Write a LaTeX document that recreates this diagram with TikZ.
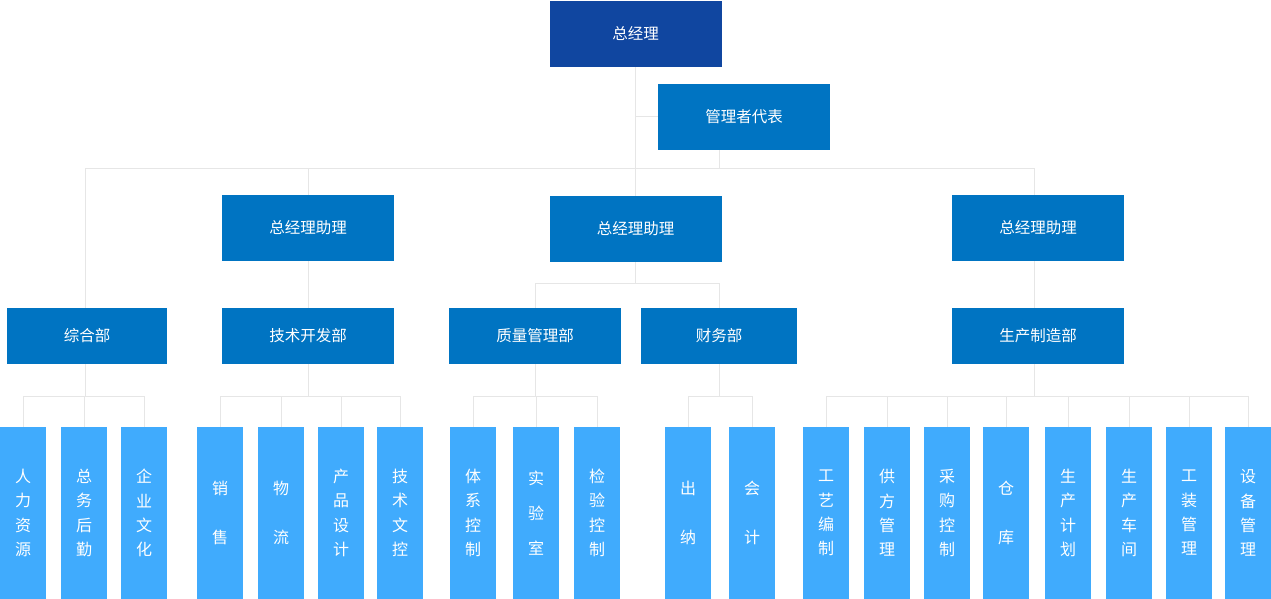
\documentclass[tikz,border=0pt]{standalone}
\usepackage{fontspec}
\setmainfont{Noto Sans CJK SC}
\definecolor{topblue}{HTML}{1046A0}
\definecolor{midblue}{HTML}{0074C2}
\definecolor{leafblue}{HTML}{40ABFD}
\definecolor{linegray}{HTML}{E6E6E6}
\tikzset{
  topbox/.style={fill=topblue,text=white,inner sep=0pt,minimum height=66pt,font=\fontsize{15.5}{18}\selectfont},
  midbox/.style={fill=midblue,text=white,inner sep=0pt,font=\fontsize{15.5}{18}\selectfont},
  leafbox/.style={fill=leafblue,text=white,inner sep=0pt,minimum width=46pt,minimum height=172pt,align=center,font=\fontsize{16}{24.3}\selectfont},
  conn/.style={draw=linegray,line width=1pt}
}
\begin{document}
\begin{tikzpicture}[x=1pt,y=-1pt]
\useasboundingbox[fill=white] (0,0) rectangle (1271,599);
% bars
\coordinate (b1) at (0,168);
\coordinate (b2) at (0,283);
\coordinate (b3) at (0,396);
% top levels
\node[topbox,minimum width=172pt] (zjl) at (635.5,34) {总经理};
\node[midbox,minimum width=172pt,minimum height=66pt] (glz) at (744,117) {管理者代表};
\node[midbox,minimum width=172pt,minimum height=66pt] (zlm) at (635.5,229) {总经理助理};
\node[midbox,minimum width=172pt,minimum height=66pt] (zll) at (308,228) {总经理助理};
\node[midbox,minimum width=172pt,minimum height=66pt] (zlr) at (1038,228) {总经理助理};
% level 3
\node[midbox,minimum width=160pt,minimum height=56pt] (zhb) at (87,336) {综合部};
\node[midbox,minimum width=172pt,minimum height=56pt] (jsb) at (308,336) {技术开发部};
\node[midbox,minimum width=172pt,minimum height=56pt] (zlb) at (535,336) {质量管理部};
\node[midbox,minimum width=156pt,minimum height=56pt] (cwb) at (719,336) {财务部};
\node[midbox,minimum width=172pt,minimum height=56pt] (scb) at (1038,336) {生产制造部};
% anchor points of the connectors
\coordinate (glzd) at ([xshift=-25pt]glz.south);
\coordinate (zhbu) at ([xshift=-2pt]zhb.north);
\coordinate (zhbd) at ([xshift=-2pt]zhb.south);
\coordinate (zlru) at ([xshift=-4pt]zlr.north);
\coordinate (zlrd) at ([xshift=-4pt]zlr.south);
\coordinate (scbu) at ([xshift=-4pt]scb.north);
\coordinate (scbd) at ([xshift=-4pt]scb.south);
% leaves
\node[leafbox] (l1) at (23,513) {人\\力\\资\\源};
\node[leafbox] (l2) at (84,513) {总\\务\\后\\勤};
\node[leafbox] (l3) at (144,513) {企\\业\\文\\化};
\node[leafbox] (l4) at (220,513) {销\\[24pt]售};
\node[leafbox] (l5) at (281,513) {物\\[24pt]流};
\node[leafbox] (l6) at (341,513) {产\\品\\设\\计};
\node[leafbox] (l7) at (400,513) {技\\术\\文\\控};
\node[leafbox] (l8) at (473,513) {体\\系\\控\\制};
\node[leafbox] (l9) at (536,513) {实\\[10.5pt]验\\[10.5pt]室};
\node[leafbox] (l10) at (597,513) {检\\验\\控\\制};
\node[leafbox] (l11) at (688,513) {出\\[24pt]纳};
\node[leafbox] (l12) at (752,513) {会\\[24pt]计};
\node[leafbox] (l13) at (826,513) {工\\艺\\编\\制};
\node[leafbox] (l14) at (887,513) {供\\方\\管\\理};
\node[leafbox] (l15) at (947,513) {采\\购\\控\\制};
\node[leafbox] (l16) at (1006,513) {仓\\[24pt]库};
\node[leafbox] (l17) at (1068,513) {生\\产\\计\\划};
\node[leafbox] (l18) at (1129,513) {生\\产\\车\\间};
\node[leafbox] (l19) at (1189,513) {工\\装\\管\\理};
\node[leafbox] (l20) at (1248,513) {设\\备\\管\\理};
% connectors: top
\draw[conn] (zjl.south) -- (zlm.north);
\draw[conn] (zjl.south |- glz.west) -- (glz.west);
\draw[conn] (glzd) -- (glzd |- b1);
\draw[conn] (zhbu |- b1) -- (zlru |- b1);
\draw[conn] (zhbu |- b1) -- (zhbu);
\draw[conn] (zll.north |- b1) -- (zll.north);
\draw[conn] (zlru |- b1) -- (zlru);
\draw[conn] (zll.south) -- (jsb.north);
\draw[conn] (zlrd) -- (scbu);
\draw[conn] (zlm.south) -- (zlm.south |- b2);
\draw[conn] (zlb.north |- b2) -- (cwb.north |- b2);
\draw[conn] (zlb.north |- b2) -- (zlb.north);
\draw[conn] (cwb.north |- b2) -- (cwb.north);
% connectors: level 3 to leaves
\foreach \p/\a/\b/\kids in {zhbd/l1/l3/{l1,l2,l3}, jsb.south/l4/l7/{l4,l5,l6,l7}, zlb.south/l8/l10/{l8,l9,l10}, cwb.south/l11/l12/{l11,l12}, scbd/l13/l20/{l13,l14,l15,l16,l17,l18,l19,l20}}{
  \draw[conn] (\p) -- (\p |- b3);
  \draw[conn] (\a.north |- b3) -- (\b.north |- b3);
  \foreach \c in \kids { \draw[conn] (\c.north |- b3) -- (\c.north); }
}
\end{tikzpicture}
\end{document}
